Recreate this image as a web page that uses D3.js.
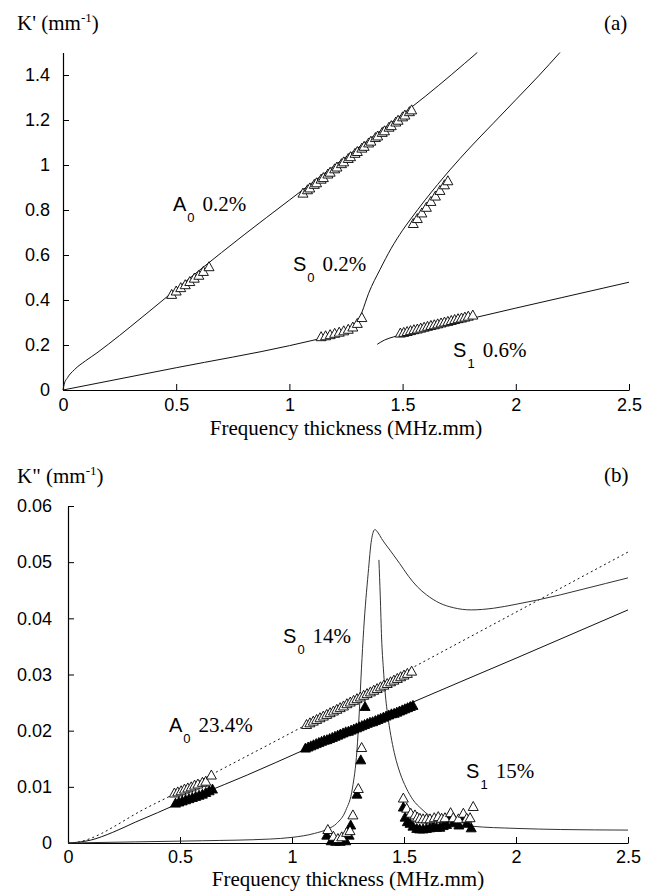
<!DOCTYPE html>
<html>
<head>
<meta charset="utf-8">
<script src="https://cdn.jsdelivr.net/npm/d3@7"></script>
<style>
body { margin: 0; background: #fff; }
svg { display: block; }
.axis path, .axis line { stroke: #000; }
.axis path { stroke-width: 1.2; }
.axis text { font-family: 'Liberation Sans', Arial, sans-serif; font-size: 18px; fill: #000; }
</style>
</head>
<body>
<script>
// tick values
const freqTicks = [0, 0.5, 1, 1.5, 2, 2.5]
const kReTicks = [0, 0.2, 0.4, 0.6, 0.8, 1, 1.2, 1.4]
const kImTicks = [0, 0.01, 0.02, 0.03, 0.04, 0.05, 0.06]

// (a) real part, theory curves [f, K']
const a0ReCurve = [[0, 0], [0.005, 0.025], [0.02, 0.055], [0.05, 0.09], [0.1, 0.13], [0.15, 0.165], [0.2, 0.203], [0.3, 0.283], [0.46, 0.415], [0.6, 0.53], [0.8, 0.69], [1.0, 0.844], [1.2, 0.998], [1.4, 1.15], [1.6, 1.305], [1.83, 1.5]]
const s0ReCurve = [[0, 0], [0.5, 0.099], [1.0, 0.197], [1.1, 0.22], [1.2, 0.245], [1.26, 0.268], [1.3, 0.3], [1.32, 0.345], [1.35, 0.43], [1.4, 0.535], [1.45, 0.63], [1.5, 0.71], [1.533, 0.756], [1.6, 0.845], [1.709, 0.978], [1.8, 1.08], [1.9, 1.185], [2.0, 1.29], [2.1, 1.395], [2.195, 1.5]]
const s1ReCurve = [[1.388, 0.203], [1.42, 0.222], [1.46, 0.236], [1.5, 0.247], [1.6, 0.27], [1.8, 0.317], [2.0, 0.364], [2.2, 0.41], [2.5, 0.479]]

// (a) measured points
const a0ReLow = [[0.48, 0.425], [0.5, 0.44], [0.52, 0.455], [0.54, 0.468], [0.56, 0.482], [0.58, 0.497], [0.6, 0.51], [0.62, 0.527], [0.645, 0.548]]
const a0ReHigh = [[1.06, 0.875], [1.08, 0.89], [1.09, 0.898], [1.11, 0.914], [1.12, 0.921], [1.14, 0.937], [1.15, 0.944], [1.17, 0.96], [1.18, 0.968], [1.2, 0.983], [1.21, 0.991], [1.23, 1.006], [1.24, 1.014], [1.26, 1.029], [1.27, 1.037], [1.29, 1.052], [1.3, 1.06], [1.32, 1.075], [1.33, 1.083], [1.35, 1.098], [1.36, 1.106], [1.38, 1.122], [1.39, 1.129], [1.41, 1.145], [1.42, 1.152], [1.44, 1.168], [1.45, 1.175], [1.47, 1.191], [1.48, 1.199], [1.5, 1.214], [1.51, 1.222], [1.53, 1.237], [1.54, 1.245]]
const s0ReLow = [[1.14, 0.237], [1.16, 0.241], [1.18, 0.246], [1.2, 0.252], [1.22, 0.257], [1.24, 0.263], [1.26, 0.27], [1.28, 0.28], [1.3, 0.296], [1.32, 0.322]]
const s0ReHigh = [[1.547, 0.74], [1.565, 0.762], [1.585, 0.787], [1.605, 0.812], [1.625, 0.838], [1.645, 0.862], [1.665, 0.887], [1.685, 0.912], [1.7, 0.93]]
const s1Re = [[1.49, 0.253], [1.505, 0.256], [1.52, 0.26], [1.535, 0.264], [1.55, 0.268], [1.565, 0.271], [1.58, 0.275], [1.595, 0.279], [1.61, 0.283], [1.625, 0.287], [1.64, 0.29], [1.655, 0.294], [1.67, 0.298], [1.685, 0.302], [1.7, 0.305], [1.715, 0.309], [1.73, 0.313], [1.745, 0.317], [1.76, 0.32], [1.775, 0.324], [1.79, 0.328], [1.81, 0.333]]

// (b) imaginary part, theory curves [f, K'']
const a0ImCurve = [[0, 0], [0.1, 0.0005], [0.2, 0.0019], [0.3, 0.0037], [0.4, 0.0054], [0.48, 0.0068], [0.6, 0.0088], [0.8, 0.0121], [1.05, 0.0165], [1.5, 0.0244], [2.0, 0.0329], [2.5, 0.0415]]
const s0ImDotted = [[0, 0], [0.05, 0.0002], [0.1, 0.0008], [0.15, 0.0017], [0.2, 0.0028], [0.32, 0.0056], [0.463, 0.0085], [0.723, 0.0139], [1.0, 0.0197], [1.5, 0.0304], [2.0, 0.0411], [2.5, 0.0518]]
const s0ImCurve = [[0, 0], [0.3, 0.0002], [0.6, 0.0004], [0.9, 0.0007], [1.0, 0.001], [1.1, 0.0017], [1.16, 0.0025], [1.2, 0.0035], [1.24, 0.0058], [1.27, 0.0098], [1.29, 0.0165], [1.3, 0.023], [1.31, 0.031], [1.32, 0.038], [1.34, 0.048], [1.355, 0.054], [1.37, 0.0558], [1.385, 0.0552], [1.4, 0.0542], [1.44, 0.052], [1.48, 0.0498], [1.52, 0.0475], [1.56, 0.0456], [1.6, 0.0442], [1.66, 0.0427], [1.72, 0.0419], [1.8, 0.0415], [1.9, 0.0418], [2.0, 0.0425], [2.1, 0.0433], [2.2, 0.0442], [2.3, 0.0452], [2.4, 0.0462], [2.5, 0.0472]]
const s1ImCurve = [[1.388, 0.0504], [1.394, 0.044], [1.4, 0.0365], [1.408, 0.031], [1.415, 0.0272], [1.43, 0.022], [1.445, 0.0183], [1.46, 0.0155], [1.482, 0.0125], [1.51, 0.0098], [1.54, 0.0077], [1.58, 0.006], [1.616, 0.0048], [1.7, 0.0036], [1.8, 0.003], [2.0, 0.0026], [2.2, 0.0024], [2.5, 0.0023]]

// (b) measured points, open = S0 / S1, filled = A0
const openLow = [[0.475, 0.0089], [0.49, 0.0091], [0.505, 0.0093], [0.52, 0.0096], [0.535, 0.0098], [0.55, 0.01], [0.565, 0.0103], [0.58, 0.0105], [0.6, 0.0108], [0.615, 0.011], [0.64, 0.0121]]
const openHigh = [[1.065, 0.0211], [1.08, 0.0214], [1.095, 0.0217], [1.11, 0.022], [1.125, 0.0223], [1.14, 0.0226], [1.155, 0.0229], [1.17, 0.0232], [1.185, 0.0235], [1.2, 0.0238], [1.215, 0.0241], [1.23, 0.0244], [1.245, 0.0248], [1.26, 0.0251], [1.275, 0.0254], [1.29, 0.0257], [1.305, 0.026], [1.32, 0.0263], [1.335, 0.0266], [1.35, 0.0269], [1.365, 0.0272], [1.38, 0.0275], [1.395, 0.0278], [1.41, 0.0281], [1.425, 0.0284], [1.44, 0.0287], [1.455, 0.029], [1.47, 0.0293], [1.485, 0.0296], [1.5, 0.0299], [1.515, 0.0302], [1.534, 0.0306]]
const filledLow = [[0.48, 0.0071], [0.495, 0.0073], [0.51, 0.0075], [0.525, 0.0077], [0.54, 0.0079], [0.555, 0.0081], [0.57, 0.0083], [0.585, 0.0085], [0.6, 0.0087], [0.615, 0.009], [0.63, 0.0093], [0.645, 0.0096]]
const filledHigh = [[1.06, 0.0169], [1.072, 0.0171], [1.084, 0.0173], [1.096, 0.0175], [1.108, 0.0177], [1.12, 0.0179], [1.132, 0.0181], [1.144, 0.0183], [1.156, 0.0184], [1.168, 0.0186], [1.18, 0.0188], [1.192, 0.019], [1.204, 0.0192], [1.216, 0.0194], [1.228, 0.0196], [1.24, 0.0198], [1.252, 0.0199], [1.264, 0.0201], [1.276, 0.0203], [1.288, 0.0205], [1.3, 0.0207], [1.312, 0.0209], [1.324, 0.0211], [1.336, 0.0213], [1.348, 0.0215], [1.36, 0.0216], [1.372, 0.0218], [1.384, 0.022], [1.396, 0.0222], [1.408, 0.0224], [1.42, 0.0226], [1.432, 0.0228], [1.444, 0.023], [1.456, 0.0231], [1.468, 0.0233], [1.48, 0.0235], [1.492, 0.0237], [1.504, 0.0239], [1.516, 0.0241], [1.528, 0.0243], [1.54, 0.0245]]
const openPeak = [[1.16, 0.0024], [1.185, 0.0012], [1.205, 0.0008], [1.222, 0.0011], [1.244, 0.0019], [1.259, 0.0022], [1.272, 0.005], [1.296, 0.0097], [1.311, 0.017]]
const filledPeak = [[1.155, 0.0014], [1.175, 0.0004], [1.195, 0.0003], [1.215, 0.0003], [1.24, 0.0004], [1.255, 0.0014], [1.262, 0.0032], [1.29, 0.0087], [1.307, 0.0148], [1.326, 0.0243]]
const openS1 = [[1.497, 0.008], [1.512, 0.0062], [1.53, 0.0053], [1.549, 0.005], [1.56, 0.0046], [1.571, 0.0044], [1.585, 0.0043], [1.6, 0.0043], [1.616, 0.0043], [1.635, 0.0045], [1.653, 0.0047], [1.668, 0.0044], [1.683, 0.0045], [1.708, 0.0054], [1.72, 0.0045], [1.743, 0.0043], [1.765, 0.0053], [1.78, 0.0044], [1.795, 0.0045], [1.809, 0.0065]]
const filledS1 = [[1.497, 0.0064], [1.505, 0.0046], [1.515, 0.0038], [1.527, 0.0035], [1.54, 0.003], [1.557, 0.0026], [1.57, 0.0025], [1.585, 0.0025], [1.6, 0.0026], [1.615, 0.0027], [1.63, 0.003], [1.645, 0.0028], [1.66, 0.0028], [1.675, 0.0031], [1.69, 0.0033], [1.705, 0.005], [1.72, 0.0036], [1.745, 0.0032], [1.765, 0.0048], [1.78, 0.0035], [1.8, 0.0027]]

const d3 = window.d3
const fmt = d3.format('~g')
const tri = 'M0,-5L5,4L-5,4Z'
const SERIF = "'Liberation Serif', 'Times New Roman', serif"
const SANS = "'Liberation Sans', Arial, sans-serif"

const svg = d3.select('body').append('svg')
  .attr('width', 657)
  .attr('height', 892)

function makePanel (opts) {
  const x = d3.scaleLinear().domain([0, 2.5]).range([opts.left, opts.right])
  const y = d3.scaleLinear().domain([0, opts.yMax]).range([opts.bottom, opts.top])
  const line = d3.line()
    .x((d) => x(d[0]))
    .y((d) => y(d[1]))
    .curve(d3.curveMonotoneX)

  svg.append('g')
    .attr('class', 'axis')
    .attr('transform', 'translate(0,' + opts.bottom + ')')
    .call(d3.axisBottom(x).tickValues(freqTicks).tickFormat(fmt)
      .tickSizeInner(-6).tickSizeOuter(0).tickPadding(opts.xPad))

  svg.append('g')
    .attr('class', 'axis')
    .attr('transform', 'translate(' + opts.left + ',0)')
    .call(d3.axisLeft(y).tickValues(opts.yTicks).tickFormat(fmt)
      .tickSizeInner(-6).tickSizeOuter(0).tickPadding(opts.yPad))

  svg.selectAll('.axis .domain').attr('fill', 'none')

  return { x, y, line }
}

function drawCurve (p, data, dash, color) {
  svg.append('path')
    .datum(data)
    .attr('fill', 'none')
    .attr('stroke', color || '#111')
    .attr('stroke-width', 1)
    .attr('stroke-dasharray', dash || null)
    .attr('d', p.line)
}

function drawMarks (p, data, filled) {
  svg.append('g').selectAll('path')
    .data(data)
    .join('path')
    .attr('d', tri)
    .attr('transform', (d) => 'translate(' + p.x(d[0]) + ',' + p.y(d[1]) + ')')
    .attr('fill', filled ? '#000' : '#fff')
    .attr('stroke', '#000')
    .attr('stroke-width', 0.9)
}

function modeLabel (px, py, letter, sub, pct) {
  const t = svg.append('text').attr('x', px).attr('y', py).attr('fill', '#000')
  t.append('tspan').attr('font-family', SANS).attr('font-size', 20).text(letter)
  t.append('tspan').attr('font-family', SANS).attr('font-size', 13)
    .attr('dx', 1).attr('dy', 11).text(sub)
  t.append('tspan').attr('font-family', SERIF).attr('font-size', 21)
    .attr('dx', 8).attr('dy', -11).text(pct)
}

function serifText (px, py, str, anchor) {
  return svg.append('text')
    .attr('x', px).attr('y', py)
    .attr('font-family', SERIF).attr('font-size', 21)
    .attr('text-anchor', anchor || 'start')
    .text(str)
}

function yTitle (py, name) {
  const t = svg.append('text').attr('x', 17).attr('y', py)
    .attr('font-family', SERIF).attr('font-size', 21)
  t.append('tspan').text(name + ' (mm')
  t.append('tspan').attr('font-size', 13).attr('dy', -8).text('-1')
  t.append('tspan').attr('dy', 8).text(')')
}

// ---- panel (a)
const pa = makePanel({ left: 63, right: 629, top: 52.5, bottom: 390, yMax: 1.5, yTicks: kReTicks, xPad: 8, yPad: 13 })

drawCurve(pa, a0ReCurve)
drawCurve(pa, s0ReCurve)
drawCurve(pa, s1ReCurve)

drawMarks(pa, a0ReLow, false)
drawMarks(pa, a0ReHigh, false)
drawMarks(pa, s0ReLow, false)
drawMarks(pa, s0ReHigh, false)
drawMarks(pa, s1Re, false)

modeLabel(pa.x(0.486), pa.y(0.796), 'A', '0', '0.2%')
modeLabel(pa.x(1.016), pa.y(0.529), 'S', '0', '0.2%')
modeLabel(pa.x(1.723), pa.y(0.147), 'S', '1', '0.6%')

yTitle(30, "K'")
serifText(604, 30, '(a)')
serifText((63 + 629) / 2, 435, 'Frequency thickness (MHz.mm)', 'middle')

// ---- panel (b)
const pb = makePanel({ left: 68, right: 628, top: 506, bottom: 843, yMax: 0.06, yTicks: kImTicks, xPad: 7, yPad: 16 })

drawCurve(pb, s0ImDotted, '2,3')
drawCurve(pb, a0ImCurve)
drawCurve(pb, s0ImCurve, null, '#333')
drawCurve(pb, s1ImCurve, null, '#333')

drawMarks(pb, filledLow, true)
drawMarks(pb, openLow, false)
drawMarks(pb, openHigh, false)
drawMarks(pb, filledHigh, true)
drawMarks(pb, filledPeak, true)
drawMarks(pb, openPeak, false)
drawMarks(pb, filledS1, true)
drawMarks(pb, openS1, false)

modeLabel(pb.x(0.96), pb.y(0.0356), 'S', '0', '14%')
modeLabel(pb.x(0.451), pb.y(0.0198), 'A', '0', '23.4%')
modeLabel(pb.x(1.777), pb.y(0.0116), 'S', '1', '15%')

yTitle(483, 'K"')
serifText(604, 482, '(b)')
serifText((68 + 628) / 2, 886, 'Frequency thickness (MHz.mm)', 'middle')
</script>
</body>
</html>
